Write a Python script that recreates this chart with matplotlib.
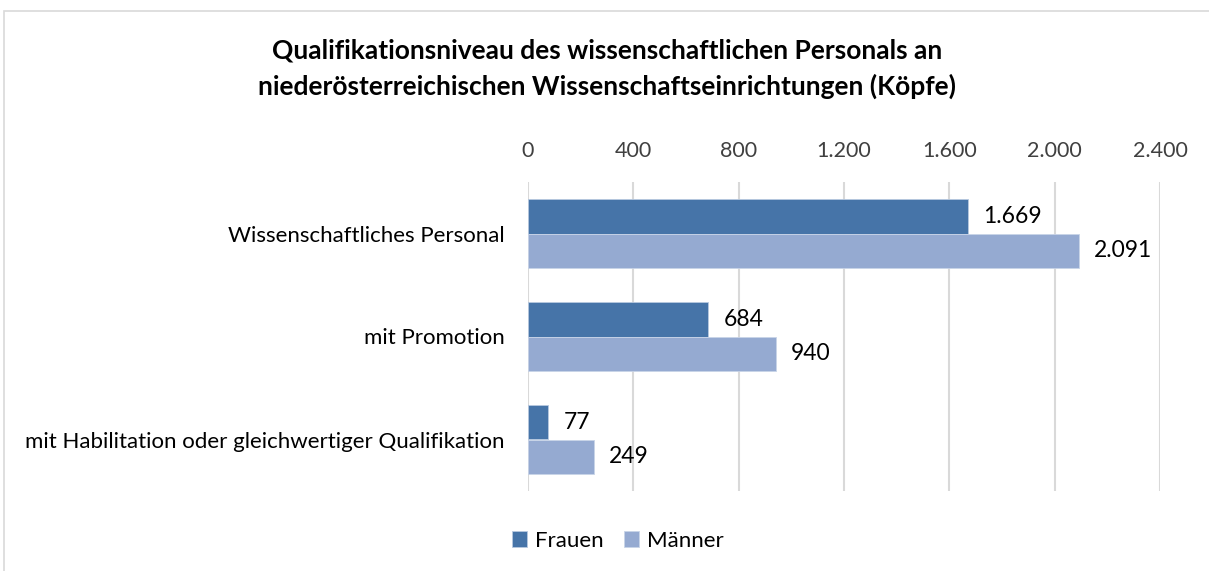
import numpy as np
import matplotlib.pyplot as plt
from matplotlib.patches import Rectangle
from matplotlib.ticker import FuncFormatter

plt.rcParams['font.family'] = ['Lato', 'DejaVu Sans']

kategorien = ['Wissenschaftliches Personal', 'mit Promotion',
              'mit Habilitation oder gleichwertiger Qualifikation']
frauen = [1669, 684, 77]
maenner = [2091, 940, 249]
serien = ['Frauen', 'Männer']
farben = ['#4674A8', '#95AAD1']

fig = plt.figure(figsize=(12.09, 5.71), dpi=100)
fig.patches.append(Rectangle((4 / 1209, -0.1), 1.2, 1 - 11 / 571 + 0.1,
                             transform=fig.transFigure, fill=False,
                             edgecolor='#D9D9D9', linewidth=1.2))

ax = fig.add_axes([528 / 1209, 1 - 491 / 571, 632 / 1209, 309 / 571])

y = np.arange(len(kategorien))
h = 1 / 3
b1 = ax.barh(y - h / 2, frauen, height=h, color=farben[0], label=serien[0],
             edgecolor='#B8C9E0', linewidth=0.6)
b2 = ax.barh(y + h / 2, maenner, height=h, color=farben[1], label=serien[1],
             edgecolor='#C8D4E8', linewidth=0.6)

fmt = lambda v: f'{v:,.0f}'.replace(',', '.')
for bars, vals in [(b1, frauen), (b2, maenner)]:
    for bar, v in zip(bars, vals):
        ax.annotate(fmt(v), (v, bar.get_y() + bar.get_height() / 2),
                    xytext=(11, 0), textcoords='offset points',
                    va='center', ha='left', fontsize=16.5)

ax.set_xlim(0, 2400)
ax.set_ylim(2.5, -0.5)
ax.set_xticks(np.arange(0, 2401, 400))
ax.xaxis.set_major_formatter(FuncFormatter(lambda v, p: fmt(v)))
ax.xaxis.tick_top()
ax.tick_params(axis='x', length=0, pad=15, labelsize=15.5, labelcolor='#404040')
ax.set_yticks(y)
ax.set_yticklabels(kategorien, fontsize=16)
ax.tick_params(axis='y', length=0, pad=17)
ax.grid(axis='x', color='#D9D9D9', linewidth=1.5)
ax.set_axisbelow(True)
for s in ax.spines.values():
    s.set_visible(False)

fig.text(0.502, 1 - 69 / 571,
         'Qualifikationsniveau des wissenschaftlichen Personals an\n'
         'niederösterreichischen Wissenschaftseinrichtungen (Köpfe)',
         ha='center', va='center', fontsize=19, fontweight='bold',
         linespacing=1.55)

fig.legend(loc='center', bbox_to_anchor=(0.511, 1 - 541 / 571), ncol=2,
           frameon=False, fontsize=16, handlelength=0.7, handleheight=0.7,
           handletextpad=0.35, columnspacing=0.9)

fig.savefig('out.png', dpi=100)
